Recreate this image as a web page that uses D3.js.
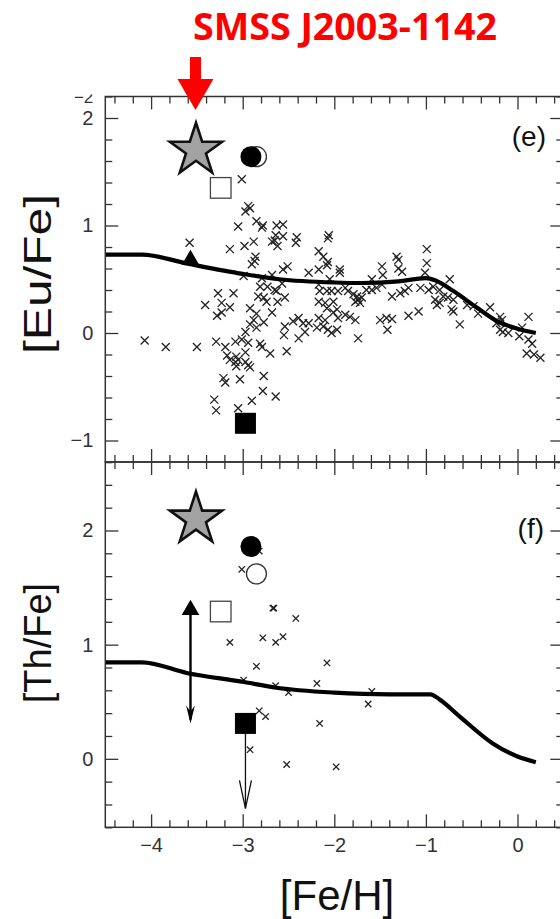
<!DOCTYPE html>
<html>
<head>
<meta charset="utf-8">
<script src="https://cdn.jsdelivr.net/npm/d3@7"></script>
<style>
  body { margin: 0; background: #fff; }
  svg { display: block; }
</style>
</head>
<body>
<svg id="chart" width="560" height="919"></svg>
<script>
// ---------- data ----------
const xMajorTicks = [-4, -3, -2, -1, 0];
const euMajorTicks = [-1, 0, 1, 2];
const thMajorTicks = [0, 1, 2];

// Galactic chemical evolution model tracks ([Fe/H], [X/Fe])
const euModel = [[-4.5,0.73],[-4.1,0.73],[-3.6,0.645],[-3.0,0.55],[-2.6,0.50],[-2.0,0.47],[-1.7,0.465],
  [-1.3,0.48],[-1.0,0.51],[-0.9,0.49],[-0.7,0.39],[-0.45,0.24],[-0.2,0.10],[0.0,0.04],[0.2,0.0]];
const thModel = [[-4.5,0.845],[-4.1,0.845],[-3.6,0.75],[-3.0,0.675],[-2.65,0.625],[-2.0,0.58],[-1.4,0.565],
  [-0.95,0.565],[-0.85,0.52],[-0.63,0.37],[-0.27,0.135],[0.0,0.02],[0.2,-0.03]];

// Field stars, [Eu/Fe]
const euField = [
  [-4.07,-0.07],[-3.84,-0.13],[-3.50,-0.13],[-3.41,0.26],[-3.58,0.84],[-3.14,0.78],[-3.05,0.99],[-3.01,1.43],
  [-2.94,1.18],[-2.97,1.13],[-2.92,1.16],[-2.85,1.04],[-2.78,1.00],[-2.79,0.98],[-2.63,1.00],[-2.56,1.01],
  [-2.64,0.91],[-2.56,0.90],[-2.68,0.85],[-2.62,0.81],[-2.65,0.86],[-2.41,0.89],[-2.42,0.84],[-2.88,0.85],
  [-2.98,0.81],[-2.86,0.71],[-2.87,0.67],[-2.90,0.64],[-2.51,0.62],[-2.56,0.59],[-2.28,0.56],[-2.99,0.53],
  [-2.79,0.51],[-2.68,0.54],[-2.81,0.43],[-2.73,0.43],[-2.65,0.40],[-2.57,0.46],[-3.27,0.37],[-3.10,0.37],
  [-3.23,0.28],[-3.14,0.24],[-2.83,0.34],[-2.77,0.33],[-2.74,0.29],[-2.63,0.39],[-2.54,0.33],[-2.62,0.29],
  [-3.28,0.16],[-3.23,0.19],[-2.92,0.23],[-2.85,0.18],[-2.68,0.19],[-2.88,0.12],[-2.77,0.10],[-2.92,0.08],
  [-2.85,0.05],[-2.97,0.01],[-2.54,0.06],[-2.45,0.11],[-2.39,0.14],[-2.34,0.09],[-2.28,0.09],[-2.55,-0.02],
  [-2.32,0.01],[-2.39,-0.05],[-3.29,-0.08],[-3.19,-0.13],[-3.08,-0.08],[-3.01,-0.06],[-2.94,-0.09],[-2.81,-0.10],
  [-2.79,-0.13],[-2.70,-0.19],[-2.52,-0.17],[-2.97,-0.18],[-3.17,-0.21],[-3.14,-0.25],[-3.07,-0.22],[-3.08,-0.27],
  [-3.05,-0.25],[-3.07,-0.31],[-2.97,-0.27],[-2.94,-0.30],[-2.92,-0.32],[-3.21,-0.42],[-3.19,-0.46],[-3.03,-0.43],
  [-2.77,-0.40],[-2.78,-0.54],[-2.64,-0.59],[-2.90,-0.63],[-3.31,-0.62],[-3.29,-0.72],[-3.05,-0.70],
  [-2.06,0.91],[-2.07,0.88],[-2.17,0.76],[-2.12,0.71],[-2.07,0.66],[-2.08,0.63],[-2.17,0.59],[-1.94,0.59],
  [-1.94,0.56],[-2.05,0.50],[-2.17,0.45],[-2.16,0.39],[-2.08,0.39],[-2.03,0.39],[-1.96,0.39],[-1.88,0.42],
  [-1.85,0.39],[-1.79,0.36],[-1.75,0.34],[-1.74,0.31],[-1.72,0.28],[-1.70,0.33],[-1.77,0.29],[-1.59,0.50],
  [-1.48,0.62],[-1.47,0.54],[-1.32,0.71],[-1.30,0.68],[-1.30,0.60],[-1.26,0.57],[-0.99,0.78],[-0.99,0.65],
  [-1.01,0.56],[-1.65,0.40],[-1.59,0.40],[-1.54,0.42],[-1.48,0.45],[-1.37,0.34],[-1.28,0.37],[-1.23,0.39],
  [-1.19,0.42],[-1.06,0.42],[-0.97,0.40],[-2.17,0.29],[-2.10,0.28],[-2.01,0.29],[-2.08,0.23],[-1.97,0.22],
  [-2.01,0.19],[-2.17,0.14],[-2.10,0.12],[-1.96,0.14],[-1.88,0.17],[-1.83,0.15],[-1.77,0.12],[-2.19,0.05],
  [-2.12,0.06],[-2.07,0.03],[-2.03,0.00],[-1.97,0.03],[-1.50,0.12],[-1.43,0.14],[-1.37,0.13],[-1.42,0.03],
  [-1.19,0.16],[-1.08,0.20],[-1.74,-0.05],[-0.92,0.43],[-0.85,0.40],[-0.90,0.31],[-0.88,0.26],[-0.85,0.28],
  [-0.81,0.34],[-0.74,0.50],[-0.76,0.33],[-0.70,0.31],[-0.72,0.22],[-0.70,0.20],[-0.63,0.08],[-0.55,0.26],
  [-0.48,0.25],[-0.43,0.18],[-0.30,0.24],[-0.19,0.15],[-0.17,0.12],[-0.23,0.09],[-0.19,0.03],[-0.16,0.01],
  [-0.10,0.00],[0.02,-0.03],[0.05,0.05],[0.12,0.15],[0.12,-0.06],[0.16,-0.10],[0.10,-0.19],[0.18,-0.20],[0.25,-0.23]
];

// Field stars, [Th/Fe]
const thField = [
  [-3.01,1.66],[-2.82,1.82],[-2.67,1.32],[-2.66,1.32],[-2.42,1.23],[-3.14,1.02],[-2.78,1.06],[-2.64,1.02],
  [-2.56,1.07],[-2.85,0.81],[-2.08,0.84],[-2.99,0.69],[-2.64,0.64],[-2.50,0.58],[-2.19,0.66],[-1.59,0.59],
  [-1.63,0.48],[-2.82,0.42],[-2.75,0.37],[-2.16,0.31],[-2.92,0.08],[-2.52,-0.05],[-1.98,-0.07]
];

// Highlighted stars: [Fe/H], [Eu/Fe], [Th/Fe]
const smssStar     = { feh: -3.51, eu: 1.70, th: 2.10 };
const filledCircle = { feh: -2.91, eu: 1.64, th: 1.86 };
const openCircle   = { feh: -2.85, eu: 1.64, th: 1.62 };
const openSquare   = { feh: -3.24, eu: 1.35, th: 1.29 };
const filledTri    = { feh: -3.57, eu: 0.68, th: 1.305, thLow: 0.31 };
const filledSquare = { feh: -2.97, eu: -0.84, th: 0.31, thLimit: -0.435 };

// ---------- layout ----------
const svg = d3.select("#chart");
const left = 105.3, right = 563.3;
const eTop = 96.5, eBot = 462, fTop = 462, fBot = 827.3;
const axisColor = "#333";

const x = d3.scaleLinear().domain([-4.5, 0.5]).range([left, right]);
const yEu = d3.scaleLinear().domain([-1.2, 2.2]).range([eBot, eTop]);
const yTh = d3.scaleLinear().domain([-0.6, 2.6]).range([fBot, fTop]);

const near = (v, arr) => arr.some(a => Math.abs(a - v) < 1e-6);
const xMinor = d3.range(-44, 5, 2).map(v => v / 10).filter(v => !near(v, xMajorTicks));
const euMinor = d3.range(-12, 23, 2).map(v => v / 10).filter(v => !near(v, euMajorTicks));
const thMinor = d3.range(-6, 27, 2).map(v => v / 10).filter(v => !near(v, thMajorTicks));

const tickFont = "'Liberation Sans', Arial, sans-serif";
const tickSize = "20px";

function styleAxis(g) {
  g.select(".domain").remove();
  g.selectAll(".tick line").attr("stroke", axisColor).attr("stroke-width", 1.3);
  g.selectAll(".tick text").attr("fill", axisColor).style("font-family", tickFont).style("font-size", tickSize);
}

function drawFrame(y, top, bot, yMajor, yMinor, xLabels) {
  const fmt = d3.format("d");
  const axes = svg.append("g");
  // left
  axes.append("g").attr("transform", `translate(${left},0)`)
    .call(d3.axisLeft(y).tickValues(yMajor).tickSize(-13).tickPadding(12).tickFormat(fmt)).call(styleAxis);
  axes.append("g").attr("transform", `translate(${left},0)`)
    .call(d3.axisLeft(y).tickValues(yMinor).tickSize(-7).tickFormat("")).call(styleAxis);
  // right
  axes.append("g").attr("transform", `translate(${right},0)`)
    .call(d3.axisRight(y).tickValues(yMajor).tickSize(-13).tickFormat("")).call(styleAxis);
  axes.append("g").attr("transform", `translate(${right},0)`)
    .call(d3.axisRight(y).tickValues(yMinor).tickSize(-7).tickFormat("")).call(styleAxis);
  // top
  axes.append("g").attr("transform", `translate(0,${top})`)
    .call(d3.axisTop(x).tickValues(xMajorTicks).tickSize(-13).tickFormat("")).call(styleAxis);
  axes.append("g").attr("transform", `translate(0,${top})`)
    .call(d3.axisTop(x).tickValues(xMinor).tickSize(-7).tickFormat("")).call(styleAxis);
  // bottom
  axes.append("g").attr("transform", `translate(0,${bot})`)
    .call(d3.axisBottom(x).tickValues(xMajorTicks).tickSize(-13).tickPadding(11)
      .tickFormat(xLabels ? fmt : "")).call(styleAxis);
  axes.append("g").attr("transform", `translate(0,${bot})`)
    .call(d3.axisBottom(x).tickValues(xMinor).tickSize(-7).tickFormat("")).call(styleAxis);
  // frame
  axes.append("rect").attr("x", left).attr("y", top).attr("width", right - left).attr("height", bot - top)
    .attr("fill", "none").attr("stroke", axisColor).attr("stroke-width", 1.5);
}

function clip(id, top, bot) {
  svg.append("clipPath").attr("id", id).append("rect")
    .attr("x", left).attr("y", top).attr("width", right - left).attr("height", bot - top);
}
clip("clipE", eTop, eBot);
clip("clipF", fTop, fBot);

function crosses(g, data, y, half) {
  g.append("g").selectAll("path").data(data).join("path")
    .attr("d", d => {
      const cx = x(d[0]), cy = y(d[1]);
      return `M${cx - half},${cy - half}L${cx + half},${cy + half}M${cx - half},${cy + half}L${cx + half},${cy - half}`;
    })
    .attr("stroke", "#222").attr("stroke-width", 1.3).attr("fill", "none");
}

function model(g, data, y) {
  g.append("path").datum(data)
    .attr("d", d3.line().x(d => x(d[0])).y(d => y(d[1])).curve(d3.curveMonotoneX))
    .attr("fill", "none").attr("stroke", "#000").attr("stroke-width", 4.2).attr("stroke-linejoin", "round");
}

const starSym = d3.symbol().type(d3.symbolStar).size(850);
const triSym = d3.symbol().type(d3.symbolTriangle).size(135);

function markers(g, y, key) {
  // SMSS J2003-1142
  g.append("path").attr("d", starSym())
    .attr("transform", `translate(${x(smssStar.feh)},${y(smssStar[key])})`)
    .attr("fill", "#a3a3a3").attr("stroke", "#111").attr("stroke-width", 2.6).attr("stroke-linejoin", "miter");
  g.append("circle").attr("cx", x(openCircle.feh)).attr("cy", y(openCircle[key])).attr("r", 10)
    .attr("fill", "#fff").attr("stroke", "#333").attr("stroke-width", 1.3);
  g.append("circle").attr("cx", x(filledCircle.feh)).attr("cy", y(filledCircle[key])).attr("r", 10.5)
    .attr("fill", "#000");
  g.append("rect").attr("x", x(openSquare.feh) - 10.3).attr("y", y(openSquare[key]) - 10.3)
    .attr("width", 20.6).attr("height", 20.6).attr("fill", "#fff").attr("stroke", "#444").attr("stroke-width", 1.3);
  g.append("rect").attr("x", x(filledSquare.feh) - 10.5).attr("y", y(filledSquare[key]) - 10.5)
    .attr("width", 21).attr("height", 21).attr("fill", "#000");
}

// ---------- panel (e) ----------
const gE = svg.append("g").attr("clip-path", "url(#clipE)");
crosses(gE, euField, yEu, 4);
model(gE, euModel, yEu);
markers(gE, yEu, "eu");
gE.append("path").attr("d", triSym()).attr("transform", `translate(${x(filledTri.feh)},${yEu(filledTri.eu)})`).attr("fill", "#000");
drawFrame(yEu, eTop, eBot, euMajorTicks, euMinor, false);

// ---------- panel (f) ----------
const gF = svg.append("g").attr("clip-path", "url(#clipF)");
crosses(gF, thField, yTh, 3.2);
model(gF, thModel, yTh);
// range for the triangle star: line down to an arrow
{
  const tx = x(filledTri.feh), ty = yTh(filledTri.th), by = yTh(filledTri.thLow);
  gF.append("line").attr("x1", tx).attr("x2", tx).attr("y1", ty).attr("y2", by - 4)
    .attr("stroke", "#000").attr("stroke-width", 2.4);
  gF.append("path").attr("d", `M${tx - 4.4},${by - 18}L${tx},${by - 12}L${tx + 4.4},${by - 18}L${tx},${by}Z`).attr("fill", "#000");
}
// upper limit for the filled square
{
  const sx = x(filledSquare.feh), sy = yTh(filledSquare.th), ly = yTh(filledSquare.thLimit);
  gF.append("line").attr("x1", sx).attr("x2", sx).attr("y1", sy).attr("y2", ly)
    .attr("stroke", "#111").attr("stroke-width", 1.3);
  gF.append("path").attr("d", `M${sx - 6},${ly - 28}L${sx},${ly}L${sx + 6},${ly - 28}`)
    .attr("fill", "none").attr("stroke", "#111").attr("stroke-width", 1.3);
}
markers(gF, yTh, "th");
gF.append("path").attr("d", triSym()).attr("transform", `translate(${x(filledTri.feh)},${yTh(filledTri.th)})`).attr("fill", "#000");
drawFrame(yTh, fTop, fBot, thMajorTicks, thMinor, true);

// clipped label belonging to the panel above
svg.append("clipPath").attr("id", "clipTop").append("rect").attr("x", 0).attr("y", 94.5).attr("width", left).attr("height", 12);
svg.append("text").attr("clip-path", "url(#clipTop)").attr("x", left - 12).attr("y", 102.5)
  .attr("text-anchor", "end").attr("fill", axisColor).style("font-family", tickFont).style("font-size", "17px").text("−2");

// panel letters
const labFont = "'Liberation Sans', Arial, sans-serif";
svg.append("text").attr("x", 546).attr("y", 146).attr("text-anchor", "end")
  .style("font-family", labFont).style("font-size", "28px").attr("fill", "#111").text("(e)");
svg.append("text").attr("x", 544).attr("y", 538).attr("text-anchor", "end")
  .style("font-family", labFont).style("font-size", "28px").attr("fill", "#111").text("(f)");

// axis titles
svg.append("text").attr("transform", "translate(51,274) rotate(-90)").attr("text-anchor", "middle")
  .attr("textLength", 160).attr("lengthAdjust", "spacingAndGlyphs")
  .style("font-family", labFont).style("font-size", "39px").attr("fill", "#111").text("[Eu/Fe]");
svg.append("text").attr("transform", "translate(51,643) rotate(-90)").attr("text-anchor", "middle")
  .style("font-family", labFont).style("font-size", "38px").attr("fill", "#111").text("[Th/Fe]");
svg.append("text").attr("x", 337).attr("y", 910).attr("text-anchor", "middle")
  .style("font-family", labFont).style("font-size", "42px").attr("fill", "#111").text("[Fe/H]");

// highlighted star name and pointer
svg.append("text").attr("x", 345).attr("y", 40).attr("text-anchor", "middle")
  .attr("textLength", 304).attr("lengthAdjust", "spacingAndGlyphs")
  .style("font-family", "'Open Sans', sans-serif").style("font-weight", 700).style("font-size", "38px")
  .attr("fill", "#ff0000").text("SMSS J2003-1142");
{
  const ax = x(smssStar.feh) - 0.5;
  svg.append("path")
    .attr("d", `M${ax - 5.5},57L${ax + 5.5},57L${ax + 5.5},79L${ax + 18},79L${ax},110L${ax - 18},79L${ax - 5.5},79Z`)
    .attr("fill", "#ff0000");
}
</script>
</body>
</html>
